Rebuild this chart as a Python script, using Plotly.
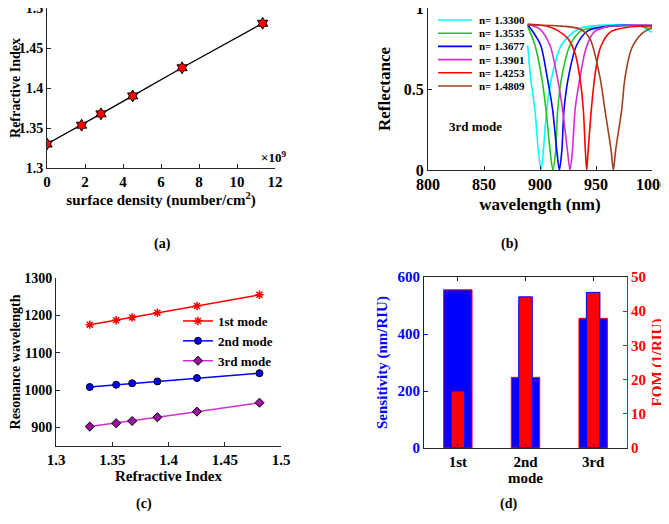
"""Quatro paineis: indice x densidade, reflectancia do 3o modo, ressonancia e sensibilidade/FOM."""

import plotly.graph_objects as go


# (a) indice de refracao em funcao da densidade superficial (x1e9 / cm2)
density = [0.0, 1.82, 2.84, 4.51, 7.11, 11.35]
ref_index = [1.3300, 1.3535, 1.3677, 1.3901, 1.4253, 1.4809]

# (b) reflectancia, 3o modo, uma curva por indice
n_labels = ["n= 1.3300", "n= 1.3535", "n= 1.3677", "n= 1.3901", "n= 1.4253", "n= 1.4809"]
curve_colors = ["cyan", "#22c322", "blue", "#d22fd2", "red", "#a0401f"]

wl_cyan = [889, 891.6, 895.5, 898.5, 901, 903, 906, 910.4, 919, 934, 960, 990, 995, 1000]
r_cyan = [0.77, 0.57, 0.37, 0.12, 0.0, 0.12, 0.37, 0.57, 0.77, 0.87, 0.895, 0.89, 0.87, 0.85]

wl_green = [889, 895.5, 901.5, 905.4, 909, 911.5, 914, 915.8, 919.3, 926.8, 937, 960, 985, 1000]
r_green = [0.885, 0.77, 0.57, 0.37, 0.12, 0.0, 0.12, 0.37, 0.57, 0.77, 0.86, 0.885, 0.89, 0.87]

wl_blue = [889, 893, 900.6, 906.5, 911.3, 915, 917.3, 919.5, 921.4, 925.3, 932.7, 943, 965, 1000]
r_blue = [0.895, 0.86, 0.77, 0.57, 0.37, 0.12, 0.0, 0.12, 0.37, 0.57, 0.77, 0.86, 0.89, 0.89]

wl_magenta = [889, 900, 908.9, 915.5, 920.2, 924.5, 926.8, 929, 931.3, 935.7, 941, 948, 960, 1000]
r_magenta = [0.9, 0.87, 0.77, 0.57, 0.37, 0.12, 0.0, 0.12, 0.37, 0.57, 0.75, 0.85, 0.885, 0.895]

wl_red = [889, 905, 916, 925, 931.3, 936, 938.7, 940.5, 941.7, 943, 945.8, 948.8, 953.6, 962.5, 977.4, 1000]
r_red = [0.9, 0.89, 0.86, 0.81, 0.72, 0.55, 0.37, 0.12, 0.0, 0.12, 0.37, 0.57, 0.75, 0.85, 0.88, 0.89]

wl_brown = [889, 915, 935.7, 944.6, 953.6, 958, 963.5, 965.5, 967.5, 972.9, 975.9, 981.8, 990.7, 1000]
r_brown = [0.895, 0.89, 0.87, 0.81, 0.57, 0.37, 0.12, 0.0, 0.12, 0.37, 0.57, 0.75, 0.84, 0.88]

# (c) comprimento de onda de ressonancia (nm) x indice
res_index = [1.3300, 1.3535, 1.3677, 1.3901, 1.4253, 1.4809]
mode1 = [1175, 1187, 1194, 1207, 1225, 1255]
mode2 = [1008, 1014, 1018, 1023, 1032, 1045]
mode3 = [902, 911, 917, 927, 942, 966]

# (d) sensibilidade e FOM por modo
modes = ["1st", "2nd", "3rd"]
sensitivity = [555, 248, 455]
fom = [16.7, 44.2, 45.5]

FONT = "Liberation Serif"
AXIS_COLOR = "#262626"
# a pagina tem margem de 8 px no body; a figura ocupa o resto da janela 669x524
PAGE_OFFSET = 8
FW, FH = 669 - PAGE_OFFSET, 524 - PAGE_OFFSET


def px_x(value):
    """Converte posicao horizontal da janela (px) para coordenada paper."""
    return (value - PAGE_OFFSET) / FW


def px_y(value):
    """Converte posicao vertical da janela (px) para coordenada paper."""
    return 1 - (value - PAGE_OFFSET) / FH


def dom_x(left, right):
    return [max(0.0, px_x(left)), min(1.0, px_x(right))]


def dom_y(top, bottom):
    return [max(0.0, px_y(bottom)), min(1.0, px_y(top))]


def axis_style(**extra):
    style = dict(
        automargin=False,
        showline=True,
        linecolor=AXIS_COLOR,
        linewidth=1,
        ticks="inside",
        ticklen=4,
        tickcolor=AXIS_COLOR,
        ticklabeloverflow="allow",
        showgrid=False,
        zeroline=False,
        tickfont=dict(size=15, color="black"),
        title_font=dict(size=15, color="black"),
    )
    style.update(extra)
    return style


fig = go.Figure()

# painel (a)
fig.add_trace(
    go.Scatter(
        x=density,
        y=ref_index,
        mode="lines+markers",
        line=dict(color="black", width=1.3),
        marker=dict(symbol="hexagram", size=9, color="red", line=dict(color="black", width=1)),
        xaxis="x",
        yaxis="y",
        showlegend=False,
    )
)

# painel (b)
curves = [
    (wl_cyan, r_cyan),
    (wl_green, r_green),
    (wl_blue, r_blue),
    (wl_magenta, r_magenta),
    (wl_red, r_red),
    (wl_brown, r_brown),
]
for (wl, refl), label, color in zip(curves, n_labels, curve_colors):
    fig.add_trace(
        go.Scatter(
            x=wl,
            y=refl,
            mode="lines",
            line=dict(color=color, width=1.6, shape="spline", smoothing=0.8),
            name=label,
            xaxis="x2",
            yaxis="y2",
            showlegend=False,
        )
    )

# painel (c)
mode_styles = [
    ("1st mode", mode1, "red", dict(symbol="asterisk-open", size=7, color="red", line=dict(color="#b00000", width=1.5))),
    ("2nd mode", mode2, "blue", dict(symbol="circle", size=7, color="blue", line=dict(color="black", width=1))),
    ("3rd mode", mode3, "#d22fd2", dict(symbol="diamond", size=7, color="#a010a0", line=dict(color="black", width=1))),
]
for name, values, color, marker in mode_styles:
    fig.add_trace(
        go.Scatter(
            x=res_index,
            y=values,
            mode="lines+markers",
            line=dict(color=color, width=1.5),
            marker=marker,
            name=name,
            xaxis="x3",
            yaxis="y3",
            legend="legend2",
        )
    )

# painel (d)
fig.add_trace(
    go.Bar(
        x=modes,
        y=sensitivity,
        width=0.42,
        marker=dict(color="blue", line=dict(color="red", width=1)),
        xaxis="x4",
        yaxis="y4",
        showlegend=False,
    )
)
fig.add_trace(
    go.Bar(
        x=modes,
        y=fom,
        width=0.2,
        marker=dict(color="red", line=dict(color="blue", width=1)),
        xaxis="x4",
        yaxis="y5",
        showlegend=False,
    )
)

# legenda compacta do painel (b), como no original
legend_shapes = []
legend_notes = []
for i, (label, color) in enumerate(zip(n_labels, curve_colors)):
    row = 20 + 13.2 * i
    legend_shapes.append(
        dict(type="line", xref="paper", yref="paper",
             x0=px_x(438), x1=px_x(472), y0=px_y(row), y1=px_y(row),
             line=dict(color=color, width=1.6))
    )
    legend_notes.append(
        dict(text=label, x=px_x(477), y=px_y(row), xref="paper", yref="paper",
             xanchor="left", yanchor="middle", showarrow=False, font=dict(size=11))
    )

left_ticks = dict(size=14, color="black")
left_title = dict(size=14, color="black")

fig.update_layout(
    width=FW,
    height=FH,
    margin=dict(l=0, r=0, t=0, b=0),
    paper_bgcolor="white",
    plot_bgcolor="white",
    font=dict(family=FONT, weight="bold", color="black"),
    barmode="overlay",
    xaxis=axis_style(
        domain=dom_x(47, 275), anchor="y", range=[0, 12], dtick=2,
        title=dict(text="surface density (number/cm<sup>2</sup>)", standoff=2),
    ),
    yaxis=axis_style(
        domain=dom_y(5, 168), anchor="x", range=[1.3, 1.5], dtick=0.05,
        tickfont=left_ticks, title_font=left_title,
        title=dict(text="Refractive Index", standoff=2),
    ),
    xaxis2=axis_style(
        domain=dom_x(428, 652), anchor="y2", range=[800, 1000], dtick=50,
        title=dict(text="wavelength (nm)", standoff=5),
        tickfont=dict(size=16, color="black"), title_font=dict(size=17, color="black"),
    ),
    yaxis2=axis_style(
        domain=dom_y(6, 170), anchor="x2", range=[0, 1], tickvals=[0, 0.5, 1],
        ticktext=["0", "0.5", "1"],
        title=dict(text="Reflectance", standoff=8),
        tickfont=dict(size=16, color="black"), title_font=dict(size=17, color="black"),
    ),
    xaxis3=axis_style(
        domain=dom_x(56, 281), anchor="y3", range=[1.3, 1.5], dtick=0.05,
        title=dict(text="Refractive Index", standoff=2),
    ),
    yaxis3=axis_style(
        domain=dom_y(278, 446), anchor="x3", range=[850, 1300], tickvals=[900, 1000, 1100, 1200, 1300],
        tickfont=left_ticks, title_font=left_title,
        title=dict(text="Resonance wavelength", standoff=2),
    ),
    xaxis4=axis_style(
        domain=dom_x(424, 627), anchor="y4", range=[-0.5, 2.5], mirror="ticks",
        title=dict(text="mode", standoff=1),
    ),
    yaxis4=axis_style(
        domain=dom_y(277, 448), anchor="x4", range=[0, 600], dtick=200,
        linecolor="blue", tickcolor="blue",
        tickfont=dict(size=15, color="blue"),
        title=dict(text="Sensitivity (nm/RIU)", standoff=6, font=dict(size=15, color="blue")),
    ),
    yaxis5=axis_style(
        overlaying="y4", anchor="x4", side="right", range=[0, 50], dtick=10,
        linecolor="red", tickcolor="red",
        tickfont=dict(size=15, color="red"),
        title=dict(text="FOM (1/RIU)", standoff=6, font=dict(size=15, color="red")),
    ),
    legend2=dict(
        x=px_x(178), y=px_y(306), xanchor="left", yanchor="top",
        bgcolor="rgba(0,0,0,0)", font=dict(size=13, color="black"),
        tracegroupgap=0, itemwidth=30,
    ),
    shapes=legend_shapes,
    annotations=legend_notes + [
        dict(text="×10<sup>9</sup>", x=px_x(288), y=px_y(157), xref="paper", yref="paper",
             xanchor="right", yanchor="middle", showarrow=False, font=dict(size=13)),
        dict(text="3rd mode", x=842, y=0.27, xref="x2", yref="y2",
             showarrow=False, font=dict(size=13)),
        dict(text="(a)", x=px_x(152), y=px_y(244), xref="paper", yref="paper",
             showarrow=False, font=dict(size=14)),
        dict(text="(b)", x=px_x(520), y=px_y(244), xref="paper", yref="paper",
             showarrow=False, font=dict(size=14)),
        dict(text="(c)", x=px_x(134), y=px_y(514), xref="paper", yref="paper",
             showarrow=False, font=dict(size=14)),
        dict(text="(d)", x=px_x(519), y=px_y(514), xref="paper", yref="paper",
             showarrow=False, font=dict(size=14)),
    ],
)

fig.write_html("out.html")
